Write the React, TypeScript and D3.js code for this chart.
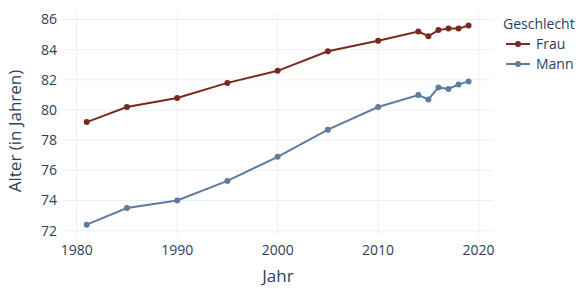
import React, { useEffect, useRef } from 'react';
import * as d3 from 'd3';

const years = [1981, 1985, 1990, 1995, 2000, 2005, 2010, 2014, 2015, 2016, 2017, 2018, 2019];
const frau = [79.2, 80.2, 80.8, 81.8, 82.6, 83.9, 84.6, 85.2, 84.9, 85.3, 85.4, 85.4, 85.6];
const mann = [72.4, 73.5, 74.0, 75.3, 76.9, 78.7, 80.2, 81.0, 80.7, 81.5, 81.4, 81.7, 81.9];
const xTicks = [1980, 1990, 2000, 2010, 2020];
const yTicks = [72, 74, 76, 78, 80, 82, 84, 86];
const seriesNames = ['Frau', 'Mann'];
const seriesColors = ['#7a2a1d', '#5f7c9d'];

const App = () => {
  const ref = useRef<SVGSVGElement>(null);

  useEffect(() => {
    if (!ref.current) return;
    const svg = d3.select(ref.current);
    svg.selectAll('*').remove();

    const W = 584, H = 289;
    const left = 63, right = 493, top = 12, bottom = 236;
    const font = '"Open Sans", sans-serif';
    const textColor = '#2a3f5f';

    const x = d3.scaleLinear().domain([1978.64, 2021.43]).range([left, right]);
    const y = d3.scaleLinear().domain([71.65, 86.5]).range([bottom, top]);

    svg.append('rect').attr('width', W).attr('height', H).attr('fill', '#fff');

    // grid
    const grid = svg.append('g');
    grid.selectAll('.gx').data(xTicks).enter().append('line')
      .attr('x1', d => x(d)).attr('x2', d => x(d))
      .attr('y1', top).attr('y2', bottom)
      .attr('stroke', '#ebf0f8').attr('stroke-width', 1);
    grid.selectAll('.gy').data(yTicks).enter().append('line')
      .attr('x1', left).attr('x2', right)
      .attr('y1', d => y(d)).attr('y2', d => y(d))
      .attr('stroke', '#ebf0f8').attr('stroke-width', 1);

    // tick labels
    svg.selectAll('.tx').data(xTicks).enter().append('text')
      .attr('x', d => x(d)).attr('y', 255)
      .attr('text-anchor', 'middle')
      .style('font-family', font).style('font-size', '14px').style('fill', textColor)
      .text(d => d);
    svg.selectAll('.ty').data(yTicks).enter().append('text')
      .attr('x', left - 6).attr('y', d => y(d)).attr('dy', '0.35em')
      .attr('text-anchor', 'end')
      .style('font-family', font).style('font-size', '14px').style('fill', textColor)
      .text(d => d);

    // axis titles
    svg.append('text')
      .attr('x', (left + right) / 2).attr('y', 282)
      .attr('text-anchor', 'middle')
      .style('font-family', font).style('font-size', '17px').style('fill', textColor)
      .text('Jahr');
    svg.append('text')
      .attr('transform', 'translate(21, 131) rotate(-90)')
      .attr('text-anchor', 'middle')
      .style('font-family', font).style('font-size', '17px').style('fill', textColor)
      .text('Alter (in Jahren)');

    const line = d3.line<number>().x((d, i) => x(years[i])).y(d => y(d));
    [frau, mann].forEach((vals, s) => {
      svg.append('path').datum(vals)
        .attr('d', line)
        .attr('fill', 'none')
        .attr('stroke', seriesColors[s])
        .attr('stroke-width', 2);
      svg.selectAll(`.pt${s}`).data(vals).enter().append('circle')
        .attr('cx', (d, i) => x(years[i])).attr('cy', d => y(d))
        .attr('r', 3).attr('fill', seriesColors[s]);
    });

    // legend
    const legend = svg.append('g');
    legend.append('text')
      .attr('x', 503).attr('y', 29)
      .style('font-family', font).style('font-size', '14px').style('fill', textColor)
      .text('Geschlecht');
    seriesNames.forEach((name, i) => {
      const ly = 44 + i * 20;
      legend.append('line')
        .attr('x1', 506).attr('x2', 530).attr('y1', ly).attr('y2', ly)
        .attr('stroke', seriesColors[i]).attr('stroke-width', 2);
      legend.append('circle').attr('cx', 518).attr('cy', ly).attr('r', 3).attr('fill', seriesColors[i]);
      legend.append('text')
        .attr('x', 536).attr('y', ly).attr('dy', '0.35em')
        .style('font-family', font).style('font-size', '14px').style('fill', textColor)
        .text(name);
    });
  }, []);

  return <svg ref={ref} width={584} height={289} style={{ position: 'absolute', left: 0, top: 0 }} />;
};

export default App;
